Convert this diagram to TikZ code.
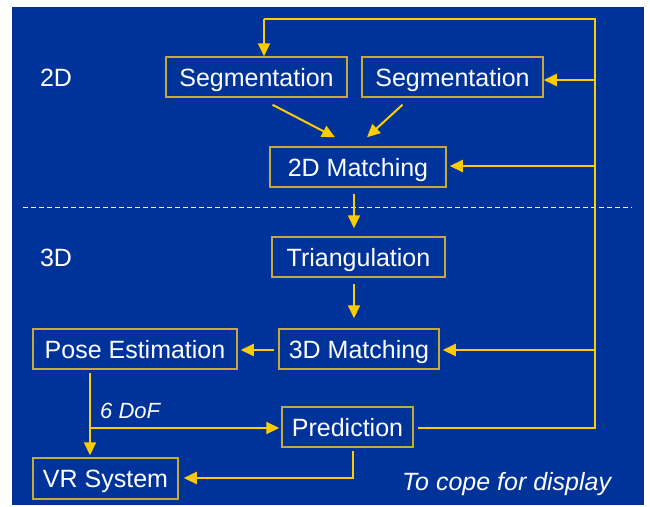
\documentclass[tikz,border=0pt]{standalone}
\usepackage{fontspec}
\setmainfont{Liberation Sans}
\usetikzlibrary{arrows.meta,backgrounds}
\definecolor{slideblue}{RGB}{0,51,153}
\definecolor{flowyellow}{RGB}{255,204,0}
\definecolor{boxgold}{RGB}{196,170,60}
\newcommand{\flowcolor}{flowyellow}
\newcommand{\thickness}{2pt}
\newcommand{\boxh}{40pt}
\tikzset{
  stage/.style={draw=boxgold, line width=1.5pt, text=white, inner sep=0pt,
    minimum height=\boxh, text height=18pt, text depth=0pt,
    font=\fontsize{25}{30}\selectfont},
  flow/.style={draw=\flowcolor, line width=\thickness,
    -{Triangle[length=13pt,width=12pt]}},
  wire/.style={draw=\flowcolor, line width=\thickness},
  layer/.style={text=white, inner sep=0pt, text height=18pt, text depth=0pt,
    font=\fontsize{25}{30}\selectfont},
  remark/.style={text=white, inner sep=0pt, font=\itshape}
}

\begin{document}
\begin{tikzpicture}[x=1pt,y=-1pt]
\useasboundingbox (0,0) rectangle (650,506);
\fill[white] (0,0) rectangle (650,506);
\fill[slideblue] (12,7) rectangle (644,505);
%layers
\node[layer] (l2d) at (56,77) {2D};
\node[layer] (l3d) at (56,257) {3D};
\draw[white, line width=1pt, dash pattern=on 5pt off 3pt] (23,207) -- (632,207);
%stages
\node[stage, minimum width=181pt] (seg1) at (256.5,77) {Segmentation};
\node[stage, minimum width=181pt] (seg2) at (452.5,77) {Segmentation};
\node[stage, minimum width=176pt] (match2d) at (358,167) {2D Matching};
\node[stage, minimum width=173pt] (tri) at (358.5,257) {Triangulation};
\node[stage, minimum width=160pt] (match3d) at (359,349) {3D Matching};
\node[stage, minimum width=204pt] (pose) at (135,349) {Pose Estimation};
\node[stage, minimum width=131pt] (pred) at (347.5,427) {Prediction};
\node[stage, minimum width=145pt, minimum height=41pt] (vr) at (105.5,478.5) {VR System};
%notes
\node[remark, font=\itshape\fontsize{22}{26}\selectfont, anchor=base west] (dof) at (100,418) {6 DoF};
\node[remark, font=\itshape\fontsize{25}{30}\selectfont, anchor=base west] (cope) at (402,490) {To cope for display};
%corners of the feedback loop
\coordinate (rbot) at (595,428);
\coordinate (rtop) at (595,19);
\coordinate (ltop) at (264,19);
\coordinate (rseg) at (595,80);
\coordinate (rm2d) at (595,166);
\coordinate (rm3d) at (595,350);
\coordinate (fork) at (90,428);
\coordinate (pdown) at (353,478);
%2D part
\draw[flow] ([xshift=16pt,yshift=-7pt]seg1.south) -- ([xshift=-23pt,yshift=9pt]match2d.north);
\draw[flow] ([xshift=-50pt,yshift=-7pt]seg2.south) -- ([xshift=9pt,yshift=9pt]match2d.north);
\draw[flow] ([xshift=-4pt,yshift=-6pt]match2d.south) -- ([xshift=-4.5pt,yshift=8pt]tri.north);
%3D part
\draw[flow] ([xshift=-4.5pt,yshift=-6pt]tri.south) -- ([xshift=-5pt,yshift=10pt]match3d.north);
\draw[flow] ([xshift=-4pt,yshift=-1pt]match3d.west) -- ([xshift=3pt,yshift=-1pt]pose.east);
\draw[flow] (pose.south -| fork) ++(0,3) -- ([yshift=2pt]vr.north -| fork);
\draw[flow] (fork) -- ([xshift=-2pt]pred.west |- fork);
\draw[flow] ([xshift=5.5pt,yshift=-3pt]pred.south) -- (pdown) -- ([xshift=5pt]vr.east |- pdown);
%feedback loop
\draw[wire] ([xshift=4pt]pred.east |- rbot) -- (rbot) -- (rtop) -- (ltop);
\draw[flow] (ltop) -- ([xshift=7.5pt]seg1.north);
\draw[flow] (rseg) -- (seg2.east |- rseg);
\draw[flow] (rm2d) -- ([xshift=3pt]match2d.east |- rm2d);
\draw[flow] (rm3d) -- ([xshift=3pt]match3d.east |- rm3d);
\end{tikzpicture}
\end{document}
